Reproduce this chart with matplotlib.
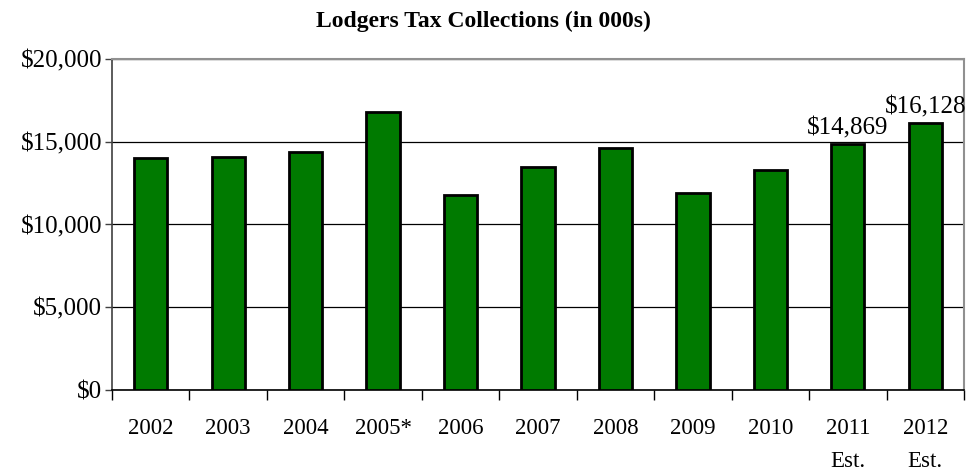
import matplotlib
matplotlib.use("Agg")
import matplotlib.pyplot as plt
from matplotlib.ticker import FuncFormatter

categories = ["2002", "2003", "2004", "2005*", "2006", "2007", "2008", "2009", "2010", "2011\nEst.", "2012\nEst."]
values = [14020, 14100, 14360, 16770, 11790, 13470, 14620, 11930, 13310, 14869, 16128]
labeled = {9: "$14,869", 10: "$16,128"}

plt.rcParams['font.family'] = ['Liberation Serif', 'DejaVu Serif']

fig = plt.figure(figsize=(9.67, 4.72), dpi=100)
ax = fig.add_axes([112/967, 82/472, 852/967, 331/472])

x = list(range(len(categories)))
ax.bar(x, values, width=0.43, color="#007A00", edgecolor="black", linewidth=2, zorder=3)

ax.set_xlim(-0.5, len(categories) - 0.5)
ax.set_ylim(0, 20000)
ax.set_yticks([0, 5000, 10000, 15000, 20000])
ax.yaxis.set_major_formatter(FuncFormatter(lambda v, p: "${:,.0f}".format(v)))
ax.grid(axis="y", color="black", linewidth=0.9, zorder=0)
ax.tick_params(axis="y", labelsize=18, length=5, width=1, colors="#404040", labelcolor="black", pad=2)

ax.set_xticks(x)
ax.set_xticklabels(categories, fontsize=16.5, linespacing=1.75)
ax.set_xticks([i - 0.5 for i in range(len(categories) + 1)], minor=True)
ax.tick_params(axis="x", which="major", length=0, pad=20)
ax.tick_params(axis="x", which="minor", length=7, width=1, color="black", direction="out")

for side in ["top", "right"]:
    ax.spines[side].set_color("#909090")
    ax.spines[side].set_linewidth(1.5)
ax.spines["left"].set_color("#404040")
ax.spines["left"].set_linewidth(1.2)
ax.spines["bottom"].set_color("black")
ax.spines["bottom"].set_linewidth(1.2)

for i, txt in labeled.items():
    ax.annotate(txt, (x[i], values[i]), xytext=(0, 3), textcoords="offset points",
                ha="center", va="bottom", fontsize=18)

fig.text(0.5, 1 - 21/472, "Lodgers Tax Collections (in 000s)", ha="center", va="center",
         fontsize=17, fontweight="bold")

fig.savefig("out.png", dpi=100)
